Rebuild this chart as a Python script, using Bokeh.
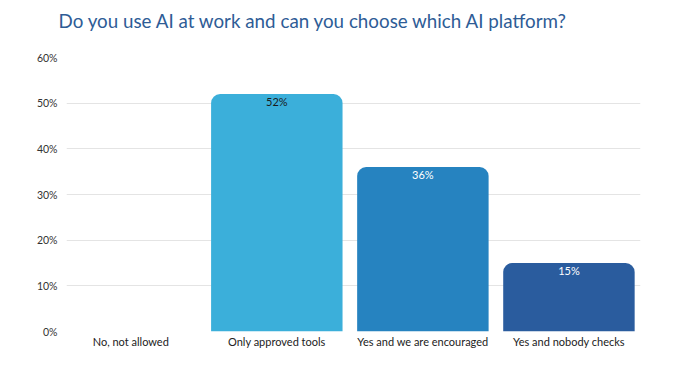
from bokeh.plotting import figure
from bokeh.models import ColumnDataSource, Range1d, FixedTicker, NumeralTickFormatter, LabelSet
from bokeh.core.properties import value
from bokeh.embed import file_html
from bokeh.resources import INLINE

title_text = "Do you use AI at work and can you choose which AI platform?"
categories = ["No, not allowed", "Only approved tools", "Yes and we are encouraged", "Yes and nobody checks"]
values = [0.0, 0.52, 0.36, 0.15]
value_labels = ["", "52%", "36%", "15%"]
colors = ["#3BAFDA", "#3BAFDA", "#2683C0", "#2A5C9E"]
label_colors = ["#1a1a1a", "#1a1a1a", "#ffffff", "#ffffff"]
y_ticks = [0, 0.1, 0.2, 0.3, 0.4, 0.5, 0.6]

xs = [i + 0.5 for i in range(len(categories))]
src = ColumnDataSource(dict(x=xs, top=values, color=colors, lab=value_labels, lc=label_colors))

p = figure(width=680, height=403, output_backend="svg", toolbar_location=None,
           x_range=Range1d(0.06, 3.99), y_range=Range1d(0, 0.6),
           min_border_left=66, min_border_right=40, min_border_top=80, min_border_bottom=49,
           styles={"margin-top": "-23px"})
p.outline_line_color = None
p.background_fill_color = "white"
p.border_fill_color = "white"

p.vbar(x="x", top="top", width=0.9, bottom=0, source=src, fill_color="color",
       line_color=None, border_radius=(9, 9, 0, 0))

labels = LabelSet(x="x", y="top", text="lab", source=src, text_align="center", text_baseline="top",
                  y_offset=-1, text_font_size="11px", text_color="lc", text_font=value("Lato"))
p.add_layout(labels)

p.title.text = title_text
p.title.text_font = "Lato"
p.title.text_font_size = "18.8px"
p.title.text_font_style = "normal"
p.title.text_color = "#2E5C96"
p.title.align = "left"
p.title.offset = -8
p.title.standoff = 52
p.title.vertical_align = "bottom"

p.xaxis.ticker = FixedTicker(ticks=xs)
p.xaxis.major_label_overrides = {x: c for x, c in zip(xs, categories)}
p.xaxis.major_tick_line_color = None
p.xaxis.major_tick_out = 0
p.xaxis.major_tick_in = 0
p.xaxis.minor_tick_line_color = None
p.xaxis.axis_line_color = None
p.xaxis.major_label_text_font = "Lato"
p.xaxis.major_label_text_font_size = "11px"
p.xaxis.major_label_text_color = "#222222"
p.xaxis.major_label_standoff = 3

p.yaxis.ticker = FixedTicker(ticks=y_ticks)
p.yaxis.formatter = NumeralTickFormatter(format="0%")
p.yaxis.major_tick_line_color = None
p.yaxis.major_tick_out = 0
p.yaxis.major_tick_in = 0
p.yaxis.minor_tick_line_color = None
p.yaxis.axis_line_color = None
p.yaxis.major_label_text_font = "Lato"
p.yaxis.major_label_text_font_size = "10.5px"
p.yaxis.major_label_text_color = "#333333"
p.yaxis.major_label_standoff = 9

p.xgrid.grid_line_color = None
p.ygrid.grid_line_color = "#e4e4e4"
p.ygrid.grid_line_width = 1
p.ygrid.level = "underlay"

open("out.html", "w").write(file_html(p, INLINE))
